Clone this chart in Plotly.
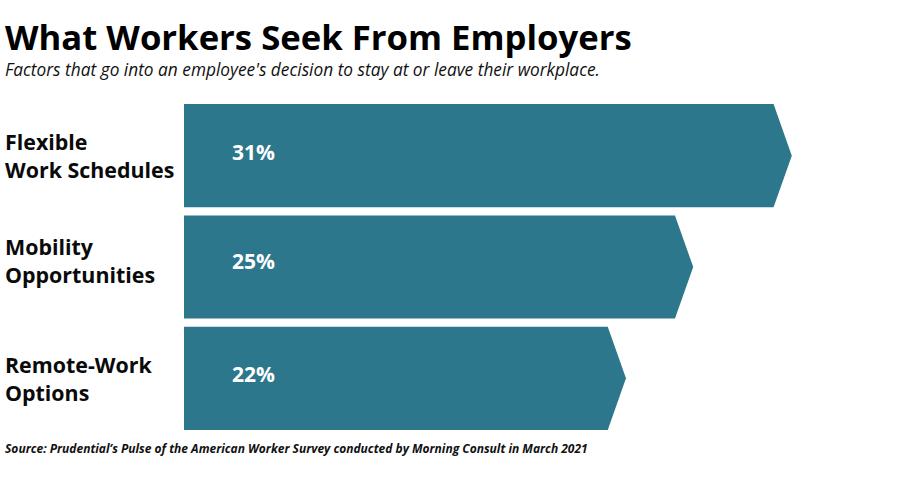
import plotly.graph_objects as go

FONT = "Open Sans"
BAR_COLOR = "#2c778b"

categories = ["Flexible<br>Work Schedules", "Mobility<br>Opportunities", "Remote-Work<br>Options"]
shares = [31, 25, 22]
# drawn length of each arrow body (percent scale)
bar_lengths = [30.08, 25.05, 21.62]

TIP = 0.93  # arrow head length, in x units
HALF = 0.463  # half of bar thickness, in y units

WIDTH, HEIGHT = 900, 483
LEFT, TOP, PLOT_W, PLOT_H = 184, 100, 716, 334


def paper_x(px):
    return (px - LEFT) / PLOT_W


def paper_y(px):
    return 1 - (px - TOP) / PLOT_H


fig = go.Figure()
annotations = []

for i, (cat, share, length) in enumerate(zip(categories, shares, bar_lengths)):
    fig.add_trace(go.Scatter(
        x=[0, length, length + TIP, length, 0, 0],
        y=[i - HALF, i - HALF, i, i + HALF, i + HALF, i - HALF],
        mode="lines",
        fill="toself",
        fillcolor=BAR_COLOR,
        line=dict(width=0),
        hoverinfo="skip",
        showlegend=False,
    ))
    # the middle row sits a little higher in the original
    nudge = 2 if i == 1 else 0
    annotations.append(dict(
        x=2.35, y=i, xref="x", yref="y", text=f"<b>{share}%</b>", showarrow=False,
        xanchor="left", yanchor="middle", yshift=4 + nudge,
        font=dict(family=FONT, size=21, color="white"),
    ))
    annotations.append(dict(
        x=paper_x(3), y=i, xref="paper", yref="y", text=f"<b>{cat}</b>", showarrow=False,
        xanchor="left", yanchor="middle", align="left", yshift=7 if i == 1 else 0,
        font=dict(family=FONT, size=21.4, color="#0a0a0a"),
    ))

annotations += [
    dict(x=paper_x(3), y=paper_y(36), xref="paper", yref="paper", showarrow=False,
         text="<b>What Workers Seek From Employers</b>", xanchor="left", yanchor="middle",
         font=dict(family=FONT, size=34.7, color="black")),
    dict(x=paper_x(3), y=paper_y(69), xref="paper", yref="paper", showarrow=False,
         text="<i>Factors that go into an employee's decision to stay at or leave their workplace.</i>",
         xanchor="left", yanchor="middle", font=dict(family=FONT, size=17.3, color="#111111")),
    dict(x=paper_x(3), y=paper_y(448), xref="paper", yref="paper", showarrow=False,
         text="<b><i>Source: Prudential’s Pulse of the American Worker Survey conducted by Morning Consult in March 2021</i></b>",
         xanchor="left", yanchor="middle", font=dict(family=FONT, size=12, color="#111111")),
]

fig.update_layout(
    width=WIDTH,
    height=HEIGHT,
    margin=dict(l=LEFT, r=0, t=TOP, b=HEIGHT - TOP - PLOT_H),
    paper_bgcolor="white",
    plot_bgcolor="white",
    annotations=annotations,
    xaxis=dict(range=[0, PLOT_W / 19.6], visible=False, fixedrange=True),
    yaxis=dict(range=[2.5, -0.5], visible=False, fixedrange=True),
)

# the title text starts closer to the edge than the default body margin allows
fig.write_html(
    "out.html",
    config={"displayModeBar": False},
    post_script="document.body.style.margin = '0';",
)
